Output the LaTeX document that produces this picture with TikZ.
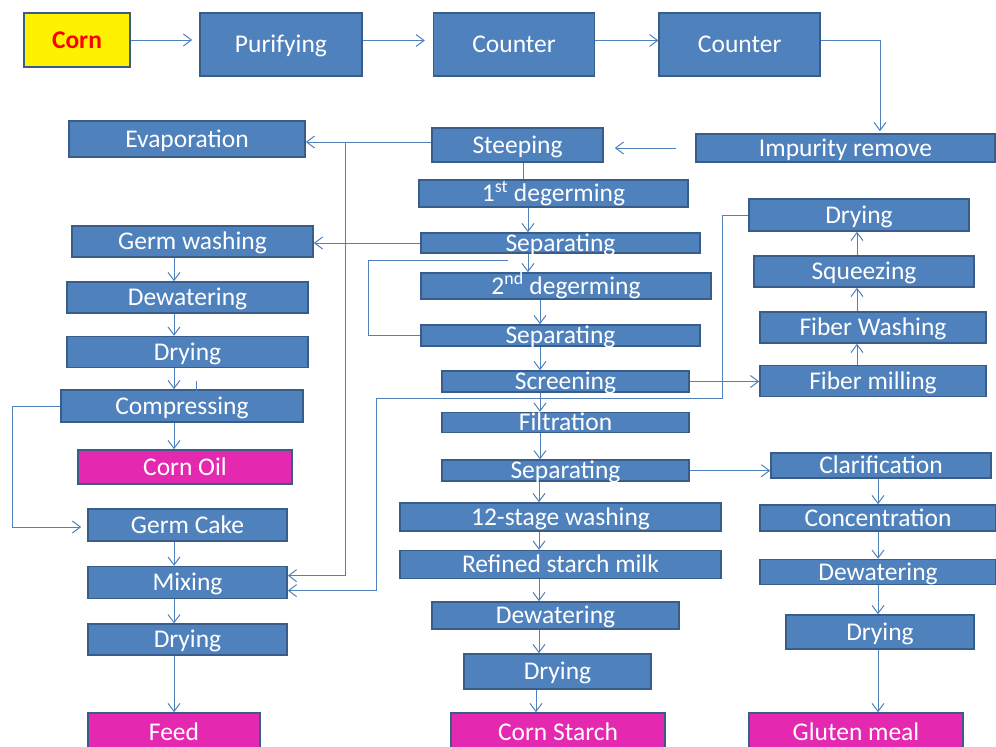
\documentclass[tikz,border=0pt]{standalone}
\usepackage{fontspec}
\setmainfont{Carlito}
\usetikzlibrary{arrows.meta, positioning}
\definecolor{cajaazul}{RGB}{79,129,189}
\definecolor{bordeazul}{RGB}{56,93,138}
\definecolor{rosa}{RGB}{229,40,176}
\tikzset{
  proceso/.style={rectangle, draw=bordeazul, fill=cajaazul, line width=1.6pt,
    inner sep=0pt, text=white, font=\fontsize{25.5}{26}\selectfont,
    text height=16pt, text depth=0pt},
  producto/.style={proceso, fill=rosa},
  materia/.style={proceso, fill=yellow, text=red,
    font=\fontsize{25.5}{26}\selectfont\bfseries},
  flecha/.style={-{Straight Barb[length=8pt,width=12pt]}, line width=1pt, color=cajaazul},
  linea/.style={line width=1pt, color=cajaazul}
}
\begin{document}
\begin{tikzpicture}[x=1pt, y=-1pt]
  \useasboundingbox (0,0) rectangle (996,747);
  % fila superior
  \node[materia, minimum width=106pt, minimum height=54pt] (corn) at (77,40) {Corn};
  \node[proceso, minimum width=162pt, minimum height=63pt] (puri) at (281,44.5) {Purifying};
  \node[proceso, right=70pt of puri, minimum width=161pt, minimum height=63pt] (cnt1) {Counter};
  \node[proceso, right=63pt of cnt1, minimum width=161pt, minimum height=63pt] (cnt2) {Counter};
  \node[proceso, minimum width=299pt, minimum height=28pt] (impur) at (845.5,148) {Impurity remove};
  \node[proceso, minimum width=171pt, minimum height=34pt] (steep) at (517.5,145) {Steeping};
  \node[proceso, minimum width=236pt, minimum height=36pt] (evap) at (187,139) {Evaporation};
  % columna central (almidon)
  \node[proceso, minimum width=269pt, minimum height=27pt] (deg1) at (553.5,193.5) {1\textsuperscript{st} degerming};
  \node[proceso, minimum width=279pt, minimum height=20pt] (sep1) at (560.5,243) {Separating};
  \node[proceso, minimum width=290pt, minimum height=26pt] (deg2) at (566,286) {2\textsuperscript{nd} degerming};
  \node[proceso, minimum width=279pt, minimum height=21pt] (sep2) at (560.5,335.5) {Separating};
  \node[proceso, minimum width=247pt, minimum height=21pt] (scr) at (565.5,381.5) {Screening};
  \node[proceso, below=19pt of scr, minimum width=247pt, minimum height=20pt] (filt) {Filtration};
  \node[proceso, below=26pt of filt, minimum width=247pt, minimum height=21pt] (sep3) {Separating};
  \node[proceso, minimum width=321pt, minimum height=28pt] (wash) at (560.5,517) {12-stage washing};
  \node[proceso, below=18pt of wash, minimum width=321pt, minimum height=28pt] (milk) {Refined starch milk};
  \node[proceso, minimum width=247pt, minimum height=27pt] (dewc) at (555.5,615.5) {Dewatering};
  \node[proceso, minimum width=187pt, minimum height=35pt] (dryc) at (557.5,671.5) {Drying};
  \node[producto, minimum width=214pt, minimum height=39pt] (starch) at (558,732.5) {Corn Starch};
  % columna izquierda (germen)
  \node[proceso, minimum width=241pt, minimum height=31pt] (gwash) at (192.5,241.5) {Germ washing};
  \node[proceso, minimum width=241pt, minimum height=31pt] (dewl) at (187.5,297.5) {Dewatering};
  \node[proceso, below=22pt of dewl, minimum width=241pt, minimum height=31pt] (dryl) {Drying};
  \node[proceso, minimum width=242pt, minimum height=32pt] (comp) at (182,406) {Compressing};
  \node[producto, minimum width=214pt, minimum height=34pt] (oil) at (185,467) {Corn Oil};
  \node[proceso, minimum width=199pt, minimum height=32pt] (cake) at (187.5,525) {Germ Cake};
  \node[proceso, below=24pt of cake, minimum width=199pt, minimum height=32pt] (mix) {Mixing};
  \node[proceso, below=24pt of mix, minimum width=199pt, minimum height=31pt] (dryf) {Drying};
  \node[producto, minimum width=172pt, minimum height=39pt] (feed) at (174,732.5) {Feed};
  % columna derecha (fibra)
  \node[proceso, minimum width=220pt, minimum height=32pt] (dryr) at (859,215) {Drying};
  \node[proceso, minimum width=220pt, minimum height=31pt] (squz) at (864,271.5) {Squeezing};
  \node[proceso, minimum width=226pt, minimum height=31pt] (fwash) at (873,327.5) {Fiber Washing};
  \node[proceso, below=21pt of fwash, minimum width=226pt, minimum height=31pt] (fmill) {Fiber milling};
  % columna derecha (gluten)
  \node[proceso, minimum width=220pt, minimum height=25pt] (clar) at (881,465.5) {Clarification};
  \node[proceso, minimum width=236pt, minimum height=26pt] (conc) at (878,518) {Concentration};
  \node[proceso, below=27pt of conc, minimum width=236pt, minimum height=25pt] (dewr) {Dewatering};
  \node[proceso, minimum width=188pt, minimum height=34pt] (dryg) at (880,632) {Drying};
  \node[producto, minimum width=214pt, minimum height=39pt] (gluten) at (856,732.5) {Gluten meal};
  % ejes de las flechas verticales
  \coordinate (xa) at (523,0);
  \coordinate (xb) at (528,0);
  \coordinate (xc) at (540,0);
  \coordinate (xd) at (539,0);
  \coordinate (xe) at (536,0);
  \coordinate (xl) at (174,0);
  \coordinate (xr) at (857,0);
  \coordinate (xg) at (878,0);
  % fila superior
  \draw[flecha, shorten >=7pt] (corn.east) -- (corn.east -| puri.west);
  \draw[flecha, shorten >=8pt] ([yshift=4pt]puri.east) -- ([yshift=4pt]puri.east -| cnt1.west);
  \draw[flecha] ([yshift=4pt]cnt1.east) -- ([yshift=4pt]cnt1.east -| cnt2.west);
  \draw[flecha, shorten >=2pt] ([yshift=4pt]cnt2.east) -| ([xshift=34.5pt]impur.north);
  \draw[flecha, shorten <=19pt, shorten >=11pt] (impur.west) -- (impur.west -| steep.east);
  \draw[flecha] ([yshift=3pt]steep.west) -- ([yshift=3pt]steep.west -| evap.east);
  % agua de remojo hacia la mezcla
  \coordinate (ramal) at (345,142);
  \draw[flecha] (ramal) |- ([yshift=7pt]mix.east);
  % columna central
  \draw[linea] (steep.south -| xa) -- (deg1.north -| xa);
  \draw[flecha] (deg1.south -| xb) -- (sep1.north -| xb);
  \draw[flecha] (sep1.south -| xb) -- (deg2.north -| xb);
  \draw[flecha] (deg2.south -| xc) -- (sep2.north -| xc);
  \draw[flecha] (sep2.south -| xc) -- (scr.north -| xc);
  \draw[flecha] (scr.south -| xc) -- (filt.north -| xc);
  \draw[flecha] (filt.south -| xc) -- (sep3.north -| xc);
  \draw[flecha] (sep3.south -| xd) -- (wash.north -| xd);
  \draw[flecha] (wash.south -| xd) -- (milk.north -| xd);
  \draw[flecha] (milk.south -| xd) -- (dewc.north -| xd);
  \draw[flecha] (dewc.south -| xd) -- (dryc.north -| xd);
  \draw[flecha] (dryc.south -| xe) -- (starch.north -| xe);
  % retorno del segundo separador
  \coordinate (lazo) at (368,260);
  \coordinate (lazofin) at (508,260);
  \draw[linea] (sep2.west) -| (lazo) -- (lazofin);
  % germen
  \draw[flecha] (sep1.west) -- (sep1.west -| gwash.east);
  \draw[flecha] (gwash.south -| xl) -- (dewl.north -| xl);
  \draw[flecha] (dewl.south -| xl) -- (dryl.north -| xl);
  \draw[flecha] (dryl.south -| xl) -- (comp.north -| xl);
  \draw[linea] ([xshift=14pt,yshift=8pt]comp.north) -- ([xshift=14pt,yshift=-2pt]comp.north);
  \draw[flecha] (comp.south -| xl) -- (oil.north -| xl);
  \draw[flecha, shorten >=6pt] (comp.west) -- ++(-48,0) |- ([yshift=-2pt]cake.west);
  \draw[flecha] (cake.south -| xl) -- (mix.north -| xl);
  \draw[flecha] (mix.south -| xl) -- (dryf.north -| xl);
  \draw[flecha] (dryf.south -| xl) -- (feed.north -| xl);
  % fibra
  \draw[flecha] (scr.east) -- (scr.east -| fmill.west);
  \draw[flecha] (fmill.north -| xr) -- (fwash.south -| xr);
  \draw[flecha] (fwash.north -| xr) -- (squz.south -| xr);
  \draw[flecha] (squz.north -| xr) -- (dryr.south -| xr);
  \coordinate (codo1) at (722,398);
  \coordinate (codo2) at (376,398);
  \draw[flecha] (dryr.west) -| (codo1) -- (codo2) |- ([yshift=-8pt]mix.east);
  % gluten
  \draw[flecha] (sep3.east) -- (sep3.east -| clar.west);
  \draw[flecha] (clar.south -| xg) -- (conc.north -| xg);
  \draw[flecha] (conc.south -| xg) -- (dewr.north -| xg);
  \draw[flecha] (dewr.south -| xg) -- (dryg.north -| xg);
  \draw[flecha] (dryg.south -| xg) -- (gluten.north -| xg);
\end{tikzpicture}
\end{document}
